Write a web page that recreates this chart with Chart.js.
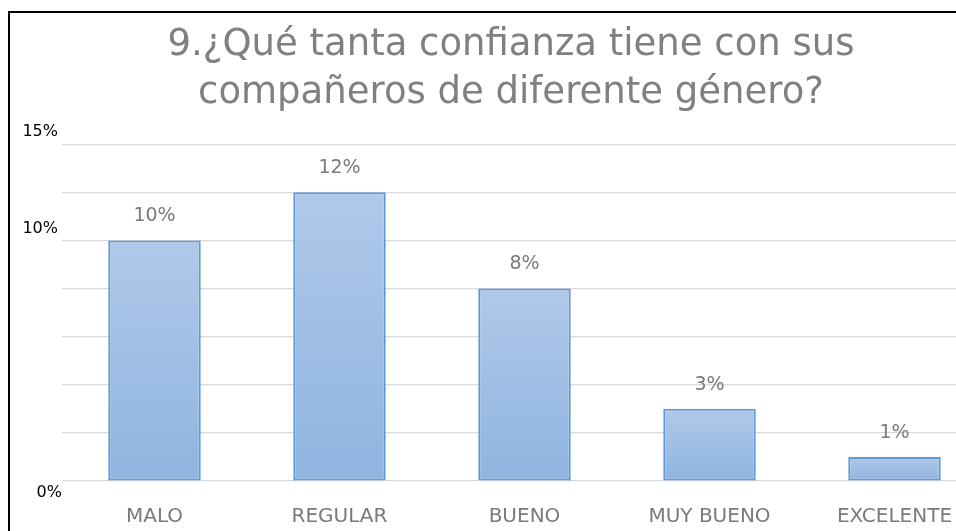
<!DOCTYPE html>
<html>
<head>
<meta charset="utf-8">
<script src="https://cdn.jsdelivr.net/npm/chart.js@4.4.1/dist/chart.umd.min.js"></script>
<style>
  html, body { margin: 0; padding: 0; background: #fff; overflow: hidden; }
  .frame { position: absolute; left: 8px; top: 11px; width: 1100px; height: 600px;
           border-left: 2px solid #000; border-top: 2px solid #000; }
  .wrap { position: absolute; left: 0; top: 0; width: 1022px; height: 531px; }
</style>
</head>
<body>
<div class="wrap"><canvas id="chart"></canvas></div>
<div class="frame"></div>
<script>
  // Data
  const categories = ['MALO', 'REGULAR', 'BUENO', 'MUY BUENO', 'EXCELENTE'];
  const values = [10, 12, 8, 3, 1];
  const valueLabels = ['10%', '12%', '8%', '3%', '1%'];
  const yLabelValues = [14, 10, 0];
  const yLabelTexts = ['15%', '10%', '0%'];
  const titleLines = ['9.¿Qué tanta confianza tiene con sus', 'compañeros de diferente género?'];

  const FONT = '"DejaVu Sans", sans-serif';

  // Bar gradient from the bar top to its base
  function barFill(context) {
    const chart = context.chart;
    const { ctx, chartArea, scales } = chart;
    if (!chartArea) return '#a6c3e6';
    const top = scales.y.getPixelForValue(context.raw);
    const base = scales.y.getPixelForValue(0);
    const g = ctx.createLinearGradient(0, top, 0, base);
    g.addColorStop(0, '#afc9e9');
    g.addColorStop(1, '#8fb4e0');
    return g;
  }

  // Labels above bars
  const valueLabelPlugin = {
    id: 'valueLabels',
    afterDatasetsDraw(chart) {
      const ctx = chart.ctx;
      const meta = chart.getDatasetMeta(0);
      ctx.save();
      ctx.font = '19px ' + FONT;
      ctx.fillStyle = '#7a7a7a';
      ctx.textAlign = 'center';
      ctx.textBaseline = 'middle';
      meta.data.forEach((bar, i) => {
        ctx.fillText(valueLabels[i], bar.x, bar.y - 24);
      });
      ctx.restore();
    }
  };

  // Y labels placed near their gridlines
  const yLabelPlugin = {
    id: 'yLabels',
    afterDraw(chart) {
      const ctx = chart.ctx;
      const y = chart.scales.y;
      ctx.save();
      ctx.font = '16px ' + FONT;
      ctx.fillStyle = '#000';
      ctx.textAlign = 'right';
      yLabelValues.forEach((v, i) => {
        const py = y.getPixelForValue(v);
        if (v === 0) {
          ctx.textBaseline = 'top';
          ctx.fillText(yLabelTexts[i], 62, py + 4);
        } else {
          ctx.textBaseline = 'bottom';
          ctx.fillText(yLabelTexts[i], 58, py - 4);
        }
      });
      ctx.restore();
    }
  };

  const ctx = document.getElementById('chart').getContext('2d');
  const chart = new Chart(ctx, {
    type: 'bar',
    data: {
      labels: categories,
      datasets: [{
        data: values,
        backgroundColor: barFill,
        borderColor: '#6199d6',
        borderWidth: 2,
        borderSkipped: false,
        barPercentage: 0.5,
        categoryPercentage: 1
      }]
    },
    options: {
      responsive: true,
      maintainAspectRatio: false,
      animation: false,
      plugins: {
        legend: { display: false },
        tooltip: { enabled: false },
        title: {
          display: true,
          text: titleLines,
          color: '#808080',
          font: { family: FONT, size: 37, weight: 'normal', lineHeight: 1.3 },
          padding: { top: 21, bottom: 27 }
        }
      },
      scales: {
        x: {
          grid: { display: false },
          border: { display: false },
          ticks: {
            color: '#7a7a7a',
            font: { family: FONT, size: 20 },
            padding: 16,
            maxRotation: 0,
            autoSkip: false
          },
          afterFit: function(scale) { scale.height = 50; }
        },
        y: {
          min: 0,
          max: 14,
          ticks: { stepSize: 2, display: false },
          grid: { color: '#d9d9d9', drawTicks: false, lineWidth: 1.2 },
          border: { display: false },
          afterFit: function(scale) { scale.width = 62; }
        },
        // empty right spacer so the plot runs past the window edge
        yRight: {
          position: 'right',
          ticks: { display: false },
          grid: { display: false, drawTicks: false },
          border: { display: false },
          afterFit: function(scale) { scale.width = 35; }
        }
      }
    },
    plugins: [valueLabelPlugin, yLabelPlugin]
  });
</script>
</body>
</html>
